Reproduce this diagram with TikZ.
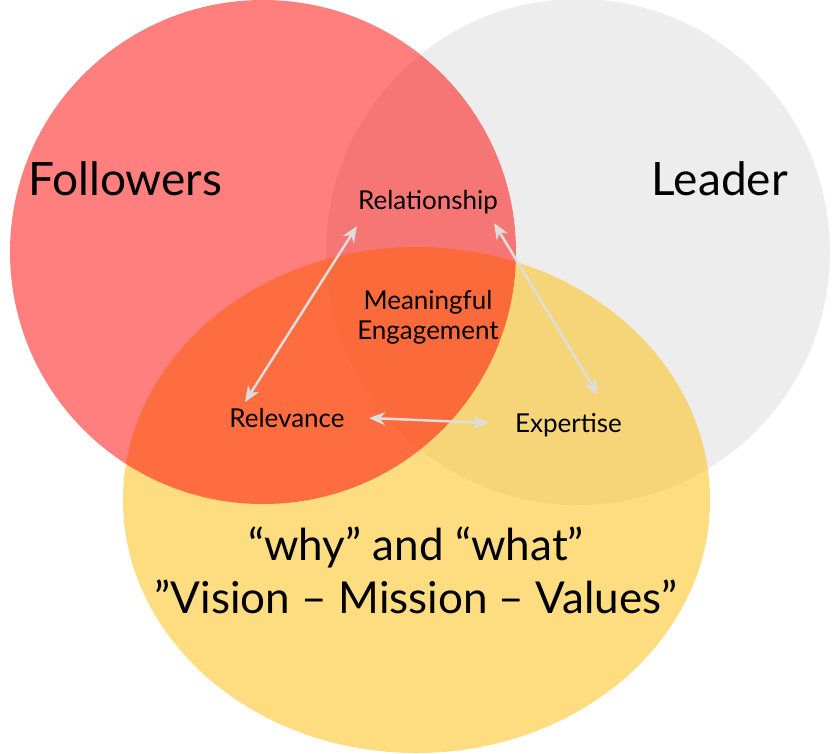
\documentclass[tikz,border=0pt]{standalone}
\usepackage{fontspec}
\setmainfont{Lato}
\usetikzlibrary{arrows.meta}
\definecolor{cgray}{RGB}{237,237,237}
\definecolor{cyel}{RGB}{252,196,36}
\definecolor{carrow}{RGB}{221,221,221}
\tikzset{
  big/.style={inner sep=0pt, font=\fontsize{46}{50}\selectfont},
  small/.style={inner sep=0pt, font=\fontsize{26}{30}\selectfont},
  bottomtxt/.style={inner sep=0pt, font=\fontsize{44}{50}\selectfont},
  arr/.style={draw=carrow, line width=2.5pt,
    {Stealth[length=16pt,width=13pt,inset=5pt]}-{Stealth[length=16pt,width=13pt,inset=5pt]}}
}
\begin{document}
\begin{tikzpicture}[x=1pt,y=-1pt]
\useasboundingbox (0,0) rectangle (832,753);
% circles
\fill[cgray] (578,252) ellipse [x radius=252pt, y radius=253pt];
\fill[cyel, fill opacity=0.58] (416.5,500) ellipse [x radius=293.5pt, y radius=253pt];
\fill[red, fill opacity=0.5] (263,252) ellipse [x radius=253pt, y radius=252pt];
% labels
\node[big, anchor=base west] (fol) at (28,195) {Followers};
\node[big, anchor=base east] (lead) at (788,195) {Leader};
\node[small, anchor=base] (rel) at (428,209) {Relationship};
\node[small, align=center, anchor=center] (me) at (428,317) {Meaningful\\Engagement};
\node[small, anchor=base] (relv) at (287,427) {Relevance};
\node[small, anchor=base] (exp) at (568.5,432) {Expertise};
\node[bottomtxt, anchor=base] (why) at (416,560) {“why” and “what”};
\node[bottomtxt, anchor=base] (vis) at (416,613) {"Vision – Mission – Values"};
% arrows
\coordinate (a1) at (245,402);
\coordinate (a2) at (357,226);
\coordinate (b1) at (494,223);
\coordinate (b2) at (598,395);
\coordinate (c1) at (369,418);
\coordinate (c2) at (489,423);
\draw[arr] (a1) -- (a2);
\draw[arr] (b1) -- (b2);
\draw[arr] (c1) -- (c2);
\end{tikzpicture}
\end{document}
